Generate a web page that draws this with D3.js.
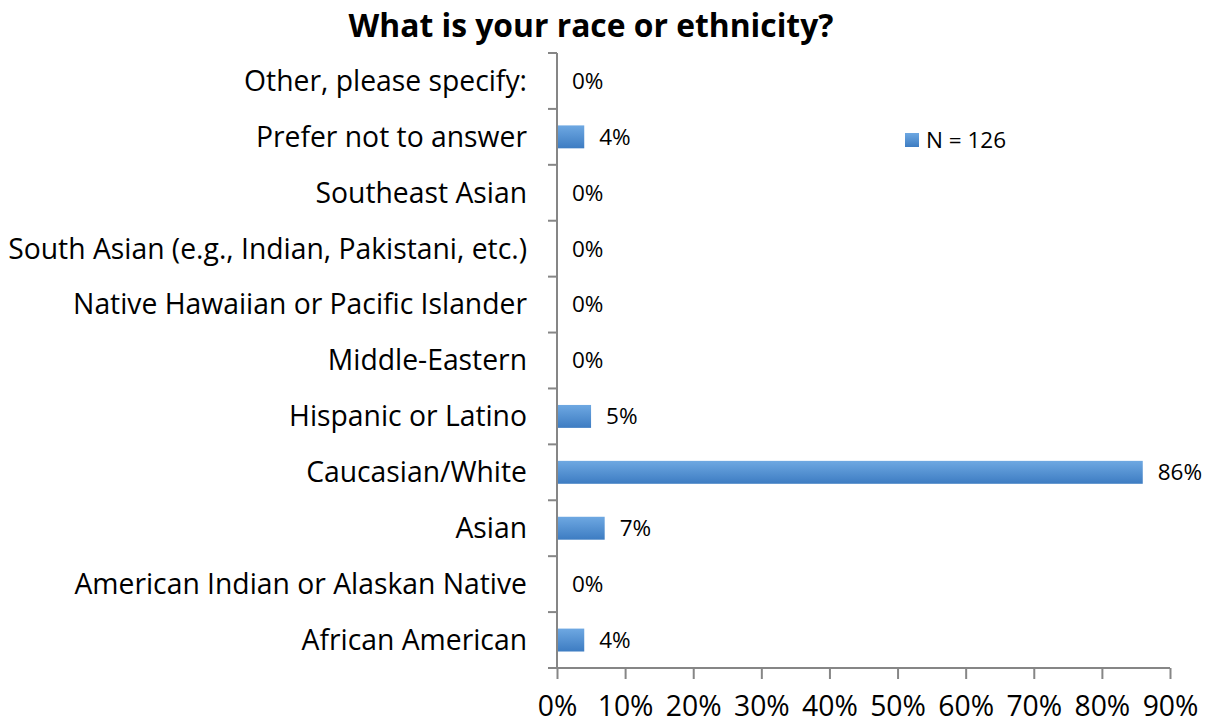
<!DOCTYPE html>
<html><head><meta charset="utf-8">
<script src="https://cdn.jsdelivr.net/npm/d3@7"></script>
<style>body{margin:0;background:#fff}svg{display:block}text{font-family:"Open Sans",Lato,sans-serif;fill:#000}</style>
</head><body>
<script>
const categories = ["Other, please specify:","Prefer not to answer","Southeast Asian","South Asian (e.g., Indian, Pakistani, etc.)","Native Hawaiian or Pacific Islander","Middle-Eastern","Hispanic or Latino","Caucasian/White","Asian","American Indian or Alaskan Native","African American"];
const values = [0,4,0,0,0,0,5,86,7,0,4];
const xTicks = [0,10,20,30,40,50,60,70,80,90];
const legendLabel = "N = 126";
const title = "What is your race or ethnicity?";

const W=1213,H=725;
const svg=d3.select("body").append("svg").attr("width",W).attr("height",H);
const defs=svg.append("defs");
const g=defs.append("linearGradient").attr("id","bg").attr("x1",0).attr("y1",0).attr("x2",0).attr("y2",1);
g.append("stop").attr("offset","0%").attr("stop-color","#6ea8e2");
g.append("stop").attr("offset","100%").attr("stop-color","#3d7cc2");

const x=d3.scaleLinear().domain([0,90]).range([557,1170]);
const y=d3.scaleBand().domain(categories).range([53,668]).paddingInner(0.59).paddingOuter(0.295);

function fitWidth(sel, target){
  const w=sel.node().getComputedTextLength();
  const fs=parseFloat(sel.style("font-size"));
  sel.style("font-size",(fs*target/w).toFixed(2)+"px");
}

const t=svg.append("text").attr("x",591).attr("y",37).attr("text-anchor","middle")
 .style("font-size","31px").style("font-weight","bold").text(title);
fitWidth(t,485);

// bars
svg.selectAll("rect.bar").data(categories).enter().append("rect").attr("class","bar")
 .attr("x",x(0)).attr("y",d=>y(d)).attr("height",y.bandwidth())
 .attr("width",(d,i)=>x(values[i])-x(0)).attr("fill","url(#bg)");

// value labels
svg.selectAll("text.val").data(categories).enter().append("text").attr("class","val")
 .attr("x",(d,i)=>x(values[i])+15).attr("y",d=>y(d)+y.bandwidth()/2).attr("dy","0.35em")
 .style("font-size","22.5px").text((d,i)=>values[i]+"%");

// y axis
const axisColor="#868686";
svg.append("line").attr("x1",x(0)).attr("x2",x(0)).attr("y1",53).attr("y2",668).attr("stroke",axisColor).attr("stroke-width",2);
const bounds=d3.range(categories.length+1).map(i=>53+i*(668-53)/categories.length);
svg.selectAll("line.yt").data(bounds).enter().append("line").attr("class","yt")
 .attr("x1",x(0)-9).attr("x2",x(0)).attr("y1",d=>d).attr("y2",d=>d).attr("stroke",axisColor).attr("stroke-width",2);
const cats=svg.selectAll("text.cat").data(categories).enter().append("text").attr("class","cat")
 .attr("x",527).attr("y",d=>y(d)+y.bandwidth()/2).attr("dy","0.35em").attr("text-anchor","end")
 .style("font-size","26px").text(d=>d);
// match the widest label width in reference
const longest=cats.filter(d=>d.startsWith("South Asian"));
const lw=longest.node().getComputedTextLength();
cats.style("font-size",(26*519/lw).toFixed(2)+"px");

// x axis
const xa=svg.append("g").attr("transform","translate(0,668)")
 .call(d3.axisBottom(x).tickValues(xTicks).tickSize(11).tickFormat(d=>d+"%"));
xa.select(".domain").attr("stroke",axisColor).attr("stroke-width",2).attr("d","M"+(x(0)-9)+",0H"+x(90));
xa.selectAll(".tick line").attr("stroke",axisColor).attr("stroke-width",2);
xa.selectAll(".tick text").attr("y",38).attr("dy","0.35em").style("font-size",(26*519/lw).toFixed(2)+"px").style("font-family","'Open Sans',Lato,sans-serif").attr("fill","#000");

// legend
svg.append("rect").attr("x",905).attr("y",133).attr("width",14).attr("height",14).attr("fill","url(#bg)");
svg.append("text").attr("x",926).attr("y",140).attr("dy","0.35em").style("font-size","22.5px").text(legendLabel);
</script>
</body></html>
